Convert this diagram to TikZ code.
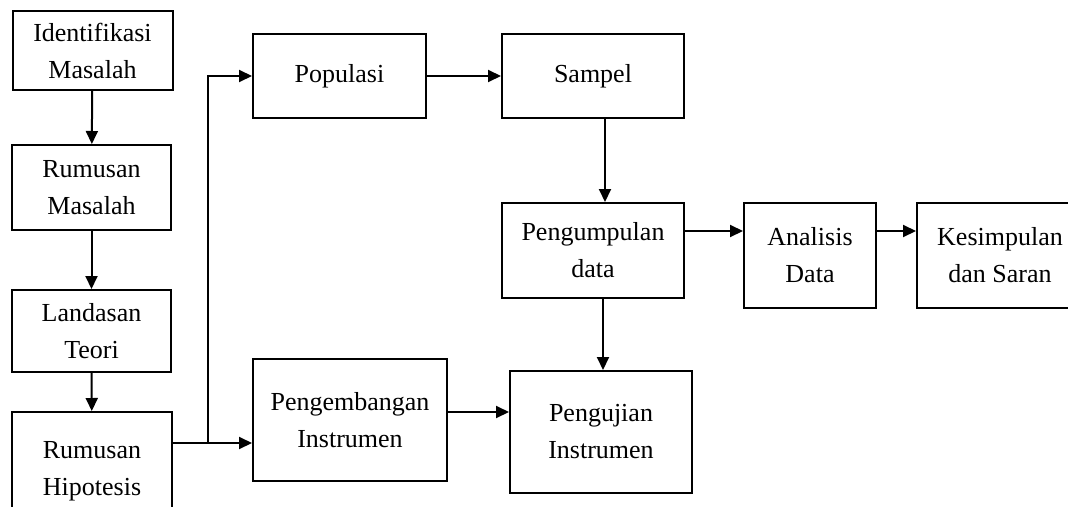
\documentclass[tikz,border=0pt]{standalone}
\usepackage{fontspec}
\setmainfont{Liberation Serif}
\usetikzlibrary{positioning, arrows.meta}

\begin{document}
\begin{tikzpicture}[x=1pt, y=-1pt, line width=2pt,
    box/.style={draw, align=center, inner sep=0pt, font=\fontsize{26}{37}\selectfont},
    >={Triangle[length=13pt, width=12pt]}]
   \useasboundingbox (0,0) rectangle (1068,506);

   % left column
   \node[box, minimum width=160pt, minimum height=79pt] (identifikasi) at (92.5,50.5) {Identifikasi\\Masalah};
   \node[box, minimum width=159pt, minimum height=85pt] (rumusan) at (91.5,187.5) {Rumusan\\Masalah};
   \node[box, minimum width=159pt, minimum height=82pt] (landasan) at (91.5,331) {Landasan\\Teori};
   \node[box, minimum width=160pt, minimum height=118pt] (hipotesis) at (92,471) {Rumusan\\Hipotesis};

   % middle
   \node[box, minimum width=173pt, minimum height=84pt] (populasi) at (339.5,76) {Populasi};
   \node[box, minimum width=182pt, minimum height=84pt] (sampel) at (593,76) {Sampel};
   \node[box, minimum width=182pt, minimum height=95pt] (pengumpulan) at (593,250.5) {Pengumpulan\\data};
   \node[box, minimum width=194pt, minimum height=122pt] (pengembangan) at (350,420) {Pengembangan\\Instrumen};
   \node[box, minimum width=182pt, minimum height=122pt] (pengujian) at (601,432) {Pengujian\\Instrumen};

   % right
   \node[box, minimum width=132pt, minimum height=105pt] (analisis) at (810,255.5) {Analisis\\Data};
   \node[box, minimum width=166pt, minimum height=105pt] (kesimpulan) at (1000,255.5) {Kesimpulan\\dan Saran};

   \coordinate (split) at (208,443);

   \draw[->] (identifikasi) -- (rumusan);
   \draw[->] (rumusan) -- (landasan);
   \draw[->] (landasan) -- (hipotesis);
   \draw (split -| hipotesis.east) -- (split);
   \draw[->] (split) -- (split -| pengembangan.west);
   \draw[->] (split) |- (populasi.west);
   \draw[->] (populasi) -- (sampel);
   \draw[->] ([xshift=12pt]sampel.south) -- ([xshift=12pt]sampel.south |- pengumpulan.north);
   \draw[->] ([yshift=19.5pt]pengumpulan.east) -- ([yshift=19.5pt]pengumpulan.east -| analisis.west);
   \draw[->] ([yshift=24.5pt]analisis.east) -- ([yshift=24.5pt]analisis.east -| kesimpulan.west);
   \draw[->] ([xshift=10pt]pengumpulan.south) -- ([xshift=10pt]pengumpulan.south |- pengujian.north);
   \draw[->] ([yshift=8pt]pengembangan.east) -- ([yshift=8pt]pengembangan.east -| pengujian.west);

\end{tikzpicture}
\end{document}
